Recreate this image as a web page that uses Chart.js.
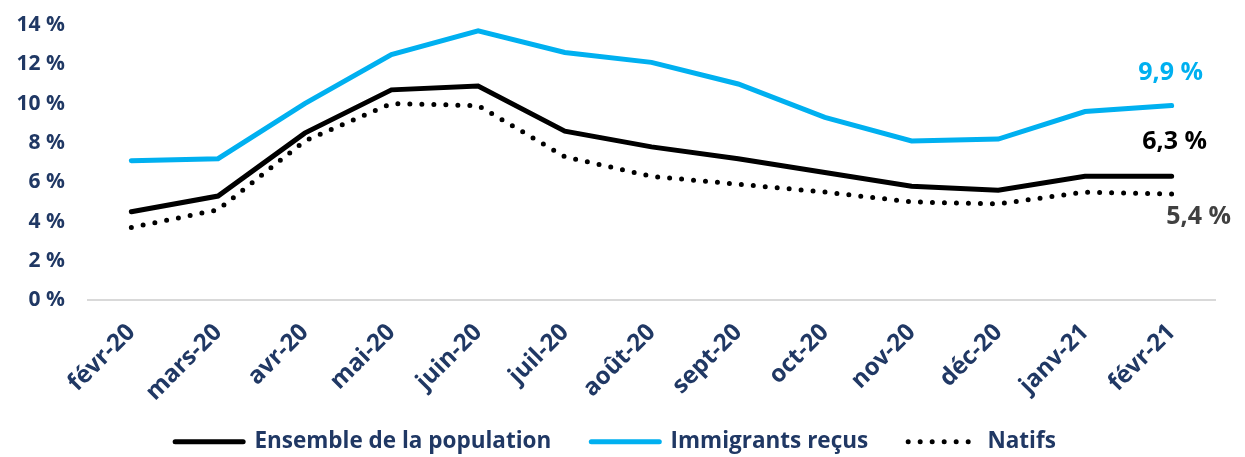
<!DOCTYPE html>
<html>
<head>
<meta charset="utf-8">
<script src="https://cdn.jsdelivr.net/npm/chart.js@4.4.1/dist/chart.umd.min.js"></script>
<style>
  html, body { margin: 0; padding: 0; background: #fff; }
  #wrap { width: 1245px; height: 457px; position: relative; }
</style>
</head>
<body>
<div id="wrap"><canvas id="chart"></canvas></div>
<script>
const months = ["févr-20", "mars-20", "avr-20", "mai-20", "juin-20", "juil-20", "août-20",
  "sept-20", "oct-20", "nov-20", "déc-20", "janv-21", "févr-21"];
const ensemble = [4.5, 5.3, 8.5, 10.7, 10.9, 8.6, 7.8, 7.2, 6.5, 5.8, 5.6, 6.3, 6.3];
const immigrants = [7.1, 7.2, 10.0, 12.5, 13.7, 12.6, 12.1, 11.0, 9.3, 8.1, 8.2, 9.6, 9.9];
const natifs = [3.7, 4.6, 8.1, 10.0, 9.9, 7.3, 6.3, 5.9, 5.5, 5.0, 4.9, 5.5, 5.4];
const yTicks = [0, 2, 4, 6, 8, 10, 12, 14];

const NAVY = "#203864";
const FONT = "'Open Sans', sans-serif";

function pct(v) {
  return v.toFixed(1).replace(".", ",") + " %";
}

// labels for the last point of each series
const endLabels = {
  id: "endLabels",
  afterDatasetsDraw(chart) {
    const ctx = chart.ctx;
    const specs = [
      { ds: 1, color: "#00B0F0", dx: -1, dy: -33 },
      { ds: 0, color: "#000000", dx: 3, dy: -34 },
      { ds: 2, color: "#404040", dx: 27, dy: 23 },
    ];
    ctx.save();
    ctx.font = "bold 25px " + FONT;
    ctx.textAlign = "center";
    ctx.textBaseline = "middle";
    specs.forEach((s) => {
      const meta = chart.getDatasetMeta(s.ds);
      const pt = meta.data[meta.data.length - 1];
      const data = chart.data.datasets[s.ds].data;
      ctx.fillStyle = s.color;
      ctx.fillText(pct(data[data.length - 1]), pt.x + s.dx, pt.y + s.dy);
    });
    ctx.restore();
  },
};

new Chart(document.getElementById("chart"), {
  type: "line",
  data: {
    labels: months,
    datasets: [
      {
        label: "Ensemble de la population",
        data: ensemble,
        borderColor: "#000000",
        backgroundColor: "#000000",
        borderWidth: 5,
        borderCapStyle: "round",
        pointRadius: 0,
        order: 2,
      },
      {
        label: "Immigrants reçus",
        data: immigrants,
        borderColor: "#00B0F0",
        backgroundColor: "#00B0F0",
        borderWidth: 5,
        borderCapStyle: "round",
        pointRadius: 0,
        order: 1,
      },
      {
        label: "Natifs",
        data: natifs,
        borderColor: "#000000",
        backgroundColor: "#000000",
        borderWidth: 5,
        borderDash: [0, 12],
        borderCapStyle: "round",
        pointRadius: 0,
        order: 3,
      },
    ],
  },
  options: {
    responsive: true,
    maintainAspectRatio: false,
    animation: false,
    layout: { padding: { left: 16, right: 30, top: 25, bottom: -6 } },
    plugins: {
      tooltip: { enabled: false },
      legend: {
        position: "bottom",
        labels: {
          usePointStyle: true,
          pointStyle: "line",
          pointStyleWidth: 68,
          boxHeight: 10,
          padding: 40,
          color: NAVY,
          font: { family: FONT, size: 22.5, weight: "bold" },
          sort: (a, b) => a.datasetIndex - b.datasetIndex,
          generateLabels(chart) {
            const items = Chart.defaults.plugins.legend.labels.generateLabels(chart);
            items.forEach((it) => {
              const ds = chart.data.datasets[it.datasetIndex];
              it.lineDash = ds.borderDash || [];
              it.lineWidth = 5;
              it.lineCap = "round";
              it.strokeStyle = ds.borderColor;
            });
            return items;
          },
        },
      },
    },
    scales: {
      x: {
        offset: true,
        grid: { display: false, drawTicks: false },
        border: { display: true, color: "#d9d9d9", width: 2 },
        afterFit(scale) {
          scale.paddingLeft = 0;
          scale.paddingRight = 0;
          scale.height -= 34;
          // the rotated labels may run into the blank top of the legend box
          scale._computeLabelArea = () => undefined;
        },
        ticks: {
          minRotation: 45,
          maxRotation: 45,
          color: NAVY,
          padding: 18,
          font: { family: FONT, size: 24, weight: "bold" },
        },
      },
      y: {
        min: 0,
        max: 14,
        afterBuildTicks(axis) {
          axis.ticks = yTicks.map((v) => ({ value: v }));
        },
        afterFit(scale) {
          scale.width = 72;
          scale.paddingTop = 0;
          scale.paddingBottom = 0;
        },
        grid: { display: false, drawTicks: false },
        border: { display: false },
        ticks: {
          color: NAVY,
          padding: 23,
          font: { family: FONT, size: 21, weight: "bold" },
          callback: (v) => v + " %",
        },
      },
    },
  },
  plugins: [endLabels],
});
</script>
</body>
</html>
